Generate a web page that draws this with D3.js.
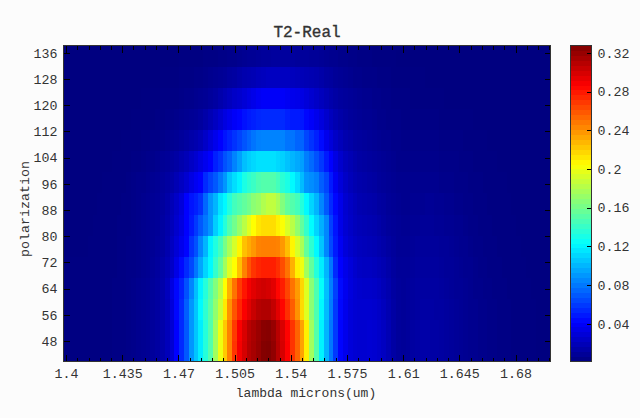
<!DOCTYPE html>
<html><head><meta charset="utf-8">
<script src="https://cdn.jsdelivr.net/npm/d3@7"></script>
<style>html,body{margin:0;padding:0;background:#fcfcfc}svg{display:block}text{font-family:"Liberation Mono",monospace;fill:#333}</style>
</head><body><div id="c"></div>
<script>
const titleText = "T2-Real", xLabel = "lambda microns(um)", yLabel = "polarization";
const xTicks = [1.4,1.435,1.47,1.505,1.54,1.575,1.61,1.645,1.68];
const xMinor = [1.407,1.414,1.421,1.428,1.442,1.449,1.456,1.463,1.477,1.484,1.491,1.498,1.512,1.519,1.526,1.533,1.547,1.554,1.561,1.568,1.582,1.589,1.596,1.603,1.617,1.624,1.631,1.638,1.652,1.659,1.666,1.673,1.687,1.694,1.701];
const yTicks = [48,56,64,72,80,88,96,104,112,120,128,136];
const cTicks = [0.04,0.08,0.12,0.16,0.2,0.24,0.28,0.32];
const lambda0 = 1.4, lambdaStep = 0.003;
const polarization = [45,51.43,57.86,64.29,70.71,77.14,83.57,90,96.43,102.86,109.29,115.71,122.14,128.57,135];
const row45 = [.002,.002,.002,.002,.002,.002,.002,.002,.002,.002,.003,.003,.003,.004,.005,.006,.007,.008,.01,.012,.015,.02,.028,.042,
 .055,.07,.09,.105,.118,.135,.15,.175,.2,.222,.245,.27,.29,.3,.31,.315,.32,.326,.327,.322,.31,.3,.287,.27,.255,.235,.21,.175,.15,.12,.1,.08,.06,.043,.036,
 .03,.028,.027,.027,.028,.027,.025,.022,.018,.013,.01,.009,.01,.012,.013,.014,.014,.013,.013,.012,.011,.01,.009,.008,.007,.006,.006,.005,.005,.004,.004,.003,.003,.003,.002,.002,.002,.002,.002,.001,.001,.001];
const row51 = [.002,.002,.002,.002,.002,.002,.002,.002,.002,.002,.003,.003,.003,.004,.005,.006,.007,.008,.01,.012,.015,.02,.028,.042,
 .055,.07,.09,.105,.118,.135,.15,.175,.2,.222,.245,.268,.288,.299,.309,.314,.319,.324,.325,.32,.309,.299,.286,.27,.255,.235,.21,.175,.15,.12,.1,.08,.06,.043,.036,
 .03,.028,.027,.027,.028,.027,.025,.022,.018,.013,.01,.009,.01,.012,.013,.014,.014,.013,.013,.012,.011,.01,.009,.008,.007,.006,.006,.005,.005,.004,.004,.003,.003,.003,.002,.002,.002,.002,.002,.001,.001,.001];
const row58 = [.002,.002,.002,.002,.002,.002,.002,.002,.002,.002,.003,.003,.003,.004,.005,.006,.007,.008,.01,.012,.015,.02,.03,.044,
 .055,.072,.09,.105,.122,.138,.152,.17,.188,.212,.24,.26,.275,.288,.296,.304,.31,.312,.312,.306,.296,.285,.272,.257,.24,.217,.195,.168,.148,.122,.102,.082,.06,.044,.036,
 .03,.028,.027,.027,.027,.026,.024,.021,.017,.013,.01,.009,.01,.011,.012,.013,.013,.013,.012,.012,.011,.01,.009,.008,.007,.006,.006,.005,.005,.004,.004,.003,.003,.003,.002,.002,.002,.002,.002,.001,.001,.001];
const row64 = [.002,.002,.002,.002,.002,.002,.002,.002,.002,.002,.003,.003,.003,.004,.005,.006,.007,.008,.01,.012,.015,.021,.032,.044,
 .053,.068,.085,.103,.12,.135,.15,.165,.182,.205,.23,.25,.268,.28,.29,.296,.3,.302,.3,.296,.285,.277,.265,.25,.237,.218,.195,.168,.148,.125,.103,.083,.062,.045,.037,
 .031,.028,.026,.025,.025,.024,.022,.019,.016,.012,.01,.009,.01,.011,.012,.012,.012,.012,.012,.011,.01,.009,.008,.008,.007,.006,.005,.005,.004,.004,.003,.003,.003,.002,.002,.002,.002,.002,.001,.001,.001,.001];
const row71 = [.002,.002,.002,.002,.002,.002,.002,.002,.002,.002,.002,.003,.003,.004,.004,.005,.006,.007,.009,.011,.014,.018,.024,.034,
 .045,.055,.065,.08,.095,.11,.122,.14,.155,.175,.195,.205,.225,.245,.26,.27,.275,.277,.277,.277,.272,.262,.25,.23,.21,.2,.175,.155,.135,.118,.1,.08,.055,.042,.035,
 .03,.026,.023,.022,.022,.021,.019,.017,.014,.011,.009,.009,.009,.01,.011,.011,.011,.011,.011,.01,.009,.009,.008,.007,.006,.006,.005,.004,.004,.003,.003,.003,.002,.002,.002,.002,.002,.001,.001,.001,.001,.001];
const row77 = [.001,.001,.001,.001,.001,.002,.002,.002,.002,.002,.002,.003,.003,.004,.004,.005,.006,.007,.008,.01,.012,.016,.022,.029,
 .036,.043,.058,.068,.085,.1,.12,.133,.145,.162,.178,.192,.208,.225,.232,.238,.245,.246,.246,.246,.245,.238,.226,.208,.192,.178,.155,.138,.122,.105,.085,.065,.05,.038,.03,
 .026,.023,.021,.02,.019,.018,.016,.014,.012,.01,.008,.008,.008,.009,.01,.01,.01,.01,.01,.009,.009,.008,.007,.006,.006,.005,.004,.004,.003,.003,.003,.002,.002,.002,.002,.002,.001,.001,.001,.001,.001,.001];
const row84 = [.001,.001,.001,.001,.001,.001,.002,.002,.002,.002,.002,.003,.003,.003,.004,.005,.006,.007,.008,.009,.012,.015,.02,.026,
 .032,.042,.05,.06,.07,.08,.09,.108,.12,.135,.15,.16,.172,.183,.195,.205,.213,.216,.216,.216,.21,.204,.193,.183,.17,.155,.14,.123,.11,.098,.085,.062,.048,.035,.028,
 .024,.021,.019,.018,.017,.016,.014,.012,.01,.009,.008,.007,.007,.008,.008,.009,.009,.009,.008,.008,.007,.007,.006,.006,.005,.004,.004,.003,.003,.003,.002,.002,.002,.002,.002,.001,.001,.001,.001,.001,.001,.001];
const row90 = [.001,.001,.001,.001,.001,.001,.001,.002,.002,.002,.002,.002,.003,.003,.004,.005,.006,.007,.008,.009,.011,.014,.019,.024,
 .03,.042,.048,.052,.058,.075,.09,.1,.115,.122,.135,.145,.15,.155,.16,.168,.172,.18,.185,.185,.178,.165,.155,.15,.145,.135,.122,.11,.1,.085,.07,.055,.044,.035,.027,
 .023,.02,.017,.016,.015,.014,.012,.011,.009,.008,.007,.006,.006,.007,.007,.007,.008,.008,.007,.007,.006,.006,.005,.005,.004,.004,.003,.003,.003,.002,.002,.002,.002,.002,.001,.001,.001,.001,.001,.001,.001,.001];
const row96 = [.001,.001,.001,.001,.001,.001,.001,.001,.002,.002,.002,.002,.002,.003,.004,.005,.005,.006,.007,.008,.01,.012,.014,.018,
 .022,.027,.033,.038,.042,.055,.063,.07,.08,.09,.105,.113,.12,.132,.138,.142,.148,.15,.15,.15,.145,.137,.132,.122,.113,.102,.09,.087,.083,.072,.064,.05,.038,.03,.024,
 .02,.017,.015,.014,.013,.012,.01,.009,.008,.007,.006,.006,.006,.006,.006,.006,.006,.006,.006,.005,.005,.005,.004,.004,.004,.003,.003,.003,.002,.002,.002,.002,.002,.001,.001,.001,.001,.001,.001,.001,.001,.001];
const row103 = [.001,.001,.001,.001,.001,.001,.001,.001,.001,.001,.002,.002,.002,.002,.003,.003,.004,.005,.005,.006,.008,.009,.011,.013,
 .016,.019,.023,.027,.032,.037,.042,.052,.058,.068,.074,.084,.093,.103,.108,.111,.114,.114,.114,.114,.111,.109,.104,.1,.096,.093,.082,.076,.068,.06,.05,.042,.033,.026,.021,
 .018,.015,.013,.012,.011,.01,.009,.008,.007,.006,.005,.005,.005,.005,.005,.005,.005,.005,.005,.004,.004,.004,.004,.003,.003,.003,.002,.002,.002,.002,.002,.001,.001,.001,.001,.001,.001,.001,.001,.001,.001,.001];
const row109 = [.001,.001,.001,.001,.001,.001,.001,.001,.001,.001,.001,.001,.002,.002,.002,.002,.003,.003,.004,.004,.005,.006,.007,.008,
 .01,.012,.014,.016,.019,.024,.03,.036,.042,.048,.053,.058,.063,.069,.074,.079,.083,.084,.084,.084,.084,.084,.079,.079,.074,.074,.064,.058,.052,.045,.036,.03,.024,.02,.016,
 .014,.012,.011,.01,.009,.008,.007,.006,.006,.005,.005,.004,.004,.004,.004,.004,.004,.004,.004,.003,.003,.003,.003,.003,.002,.002,.002,.002,.002,.001,.001,.001,.001,.001,.001,.001,.001,.001,.001,.001,.001,.001];
const row116 = [.001,.001,.001,.001,.001,.001,.001,.001,.001,.001,.001,.001,.001,.001,.002,.002,.002,.002,.002,.003,.003,.004,.004,.005,
 .006,.007,.008,.009,.011,.014,.018,.022,.027,.032,.036,.04,.043,.047,.05,.052,.054,.055,.055,.055,.055,.055,.052,.05,.05,.049,.044,.04,.036,.031,.026,.021,.017,.014,.012,
 .01,.009,.008,.007,.007,.006,.005,.005,.004,.004,.004,.003,.003,.003,.003,.003,.003,.003,.003,.002,.002,.002,.002,.002,.002,.002,.001,.001,.001,.001,.001,.001,.001,.001,.001,.001,.001,.001,.001,.001,.001,.001];
const row122 = [.001,.001,.001,.001,.001,.001,.001,.001,.001,.001,.001,.001,.001,.001,.001,.001,.002,.002,.002,.002,.003,.003,.003,.003,
 .004,.005,.005,.006,.007,.008,.01,.012,.015,.018,.021,.024,.026,.029,.032,.035,.038,.04,.04,.04,.04,.04,.038,.036,.035,.033,.03,.027,.024,.021,.018,.015,.013,.011,.01,
 .009,.008,.007,.006,.006,.005,.005,.004,.004,.003,.003,.003,.003,.002,.002,.002,.002,.002,.002,.002,.001,.001,.001,.001,.001,.001,.001,.001,.001,.001,.001,.001,.001,.001,.001,.001,.001,.001,.001,.001,.001,.001];
const row129 = [.001,.001,.001,.001,.001,.001,.001,.001,.001,.001,.001,.001,.001,.001,.001,.001,.001,.001,.001,.001,.002,.002,.002,.002,
 .003,.003,.003,.004,.004,.005,.006,.007,.008,.009,.011,.012,.014,.016,.017,.018,.02,.021,.022,.022,.022,.022,.022,.021,.02,.019,.018,.017,.016,.014,.012,.011,.009,.008,.007,
 .006,.005,.005,.004,.004,.004,.003,.003,.003,.002,.002,.002,.002,.002,.002,.002,.001,.001,.001,.001,.001,.001,.001,.001,.001,.001,.001,.001,.001,.001,.001,.001,.001,.001,.001,.001,.001,.001,.001,.001,.001,.001];
const row135 = [.001,.001,.001,.001,.001,.001,.001,.001,.001,.001,.001,.001,.001,.001,.001,.001,.001,.001,.001,.001,.001,.001,.001,.001,
 .002,.002,.002,.002,.002,.003,.003,.003,.004,.004,.005,.005,.006,.007,.008,.008,.009,.01,.01,.011,.011,.011,.011,.011,.01,.01,.01,.009,.009,.008,.007,.006,.006,.005,.005,
 .004,.004,.003,.003,.003,.002,.002,.002,.002,.002,.001,.001,.001,.001,.001,.001,.001,.001,.001,.001,.001,.001,.001,.001,.001,.001,.001,.001,.001,.001,.001,.001,.001,.001,.001,.001,.001,.001,.001,.001,.001,.001];
const rows = [row45,row51,row58,row64,row71,row77,row84,row90,row96,row103,row109,row116,row122,row129,row135];
const vMin = 0.0012, vMax = 0.3275, nLevels = 64;

const W=640,H=418,L=63.5,R=550.5,T=45.5,B=361.5,CL=570.5,CR=591.5;
const svg=d3.select("#c").append("svg").attr("width",W).attr("height",H);
const x=d3.scaleLinear().domain([1.3984,1.7018]).range([L,R]);
const y=d3.scaleLinear().domain([41.79,138.21]).range([B,T]);
const cy=d3.scaleLinear().domain([vMin,vMax]).range([B,T]);
const clamp=v=>Math.max(0,Math.min(1,v));
const jet=t=>d3.rgb(255*clamp(1.5-Math.abs(4*t-3)),255*clamp(1.5-Math.abs(4*t-2)),255*clamp(1.5-Math.abs(4*t-1))).formatRgb();
const levels=d3.range(nLevels).map(i=>jet((i+.5)/nLevels));
const color=d3.scaleSequential(jet).domain([vMin,vMax]).clamp(true);
const halfP=(polarization[1]-polarization[0])/2;
const cells=[];
rows.forEach((r,j)=>r.forEach((v,i)=>cells.push({l:lambda0+i*lambdaStep,p:polarization[j],v})));
svg.append("g").attr("shape-rendering","crispEdges").selectAll("rect").data(cells).join("rect")
 .attr("x",d=>x(d.l-lambdaStep/2)).attr("width",d=>x(d.l+lambdaStep/2)-x(d.l-lambdaStep/2)+.5)
 .attr("y",d=>y(d.p+halfP)).attr("height",d=>y(d.p-halfP)-y(d.p+halfP)+.5)
 .attr("fill",d=>color(d.v));
// colorbar
const cb=d3.range(nLevels);
const cbScale=d3.scaleBand().domain(cb).range([B,T]);
svg.append("g").attr("shape-rendering","crispEdges").selectAll("rect").data(cb).join("rect")
 .attr("x",CL).attr("width",CR-CL).attr("y",d=>cbScale(d)).attr("height",cbScale.bandwidth()+.5).attr("fill",d=>levels[d]);

function styleAxis(g,showLabels){
  g.select(".domain").remove();
  g.selectAll(".tick line").attr("stroke","#000").attr("shape-rendering","crispEdges");
  g.selectAll("text").attr("font-size","13.3px");
  if(!showLabels) g.selectAll("text").remove();
}
const fmt=d=>String(d);
svg.append("g").attr("transform",`translate(0,${B})`).call(d3.axisBottom(x).tickValues(xTicks).tickFormat(fmt).tickSizeInner(-7).tickPadding(7).tickSizeOuter(0)).call(g=>styleAxis(g,true));
svg.append("g").attr("transform",`translate(0,${B})`).call(d3.axisBottom(x).tickValues(xMinor).tickSizeInner(-4).tickSizeOuter(0)).call(g=>styleAxis(g,false));
svg.append("g").attr("transform",`translate(0,${T})`).call(d3.axisTop(x).tickValues(xTicks).tickSizeInner(-7).tickSizeOuter(0)).call(g=>styleAxis(g,false));
svg.append("g").attr("transform",`translate(0,${T})`).call(d3.axisTop(x).tickValues(xMinor).tickSizeInner(-4).tickSizeOuter(0)).call(g=>styleAxis(g,false));
svg.append("g").attr("transform",`translate(${L},0)`).call(d3.axisLeft(y).tickValues(yTicks).tickFormat(fmt).tickSizeInner(-6).tickPadding(6).tickSizeOuter(0)).call(g=>styleAxis(g,true));
svg.append("g").attr("transform",`translate(${R},0)`).call(d3.axisRight(y).tickValues(yTicks).tickSizeInner(-6).tickSizeOuter(0)).call(g=>styleAxis(g,false));
svg.append("g").attr("transform",`translate(${CR},0)`).call(d3.axisRight(cy).tickValues(cTicks).tickFormat(fmt).tickSizeInner(-5).tickPadding(6).tickSizeOuter(0)).call(g=>styleAxis(g,true));
svg.append("rect").attr("x",L).attr("y",T).attr("width",R-L).attr("height",B-T).attr("fill","none").attr("stroke","#333").attr("shape-rendering","crispEdges");
svg.append("rect").attr("x",CL).attr("y",T).attr("width",CR-CL).attr("height",B-T).attr("fill","none").attr("stroke","#333").attr("shape-rendering","crispEdges");
svg.append("text").attr("x",307).attr("y",37).attr("text-anchor","middle").attr("font-size","16px").attr("stroke","#333").attr("stroke-width",.35).text(titleText);
svg.append("text").attr("x",306).attr("y",397).attr("text-anchor","middle").attr("font-size","13px").text(xLabel);
svg.append("text").attr("transform","translate(29,209) rotate(-90)").attr("text-anchor","middle").attr("font-size","13.3px").text(yLabel);
</script></body></html>
